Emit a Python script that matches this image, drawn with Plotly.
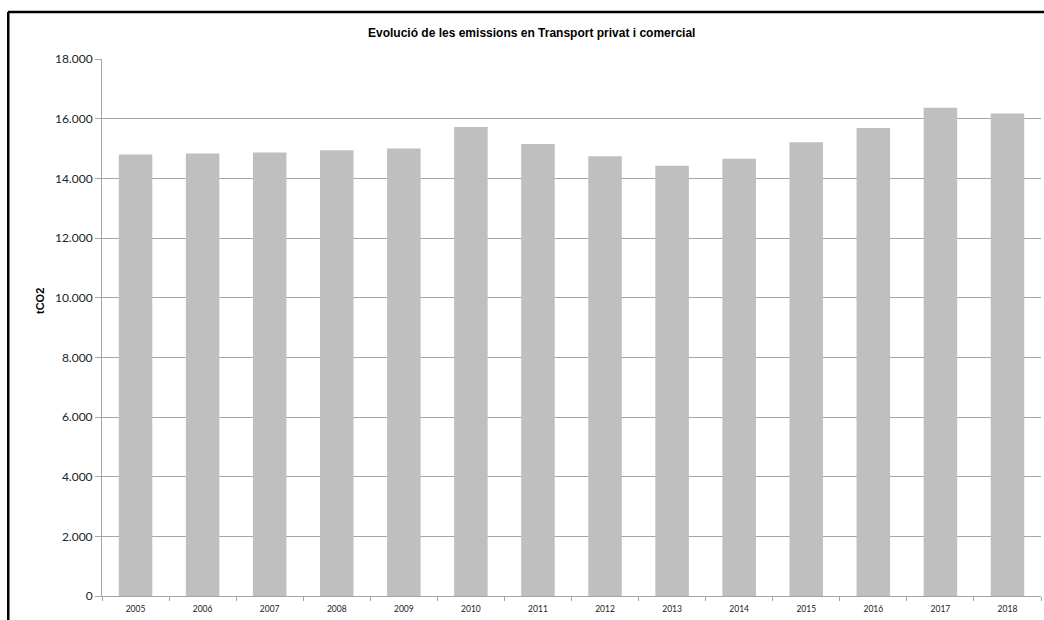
import plotly.graph_objects as go

# dades llegides del gràfic
anys = ["2005", "2006", "2007", "2008", "2009", "2010", "2011",
        "2012", "2013", "2014", "2015", "2016", "2017", "2018"]
emissions = [14800, 14830, 14870, 14940, 15000, 15720, 15150,
             14740, 14425, 14660, 15210, 15690, 16370, 16170]

titol = "Evolució de les emissions en Transport privat i comercial"
eix_y = "tCO2"

W, H = 1044, 620
L, R, T, B = 102, 3, 59, 24
pw = W - L - R
ph = H - T - B

fig = go.Figure()
fig.add_trace(go.Bar(x=anys, y=emissions, marker_color="#bfbfbf",
                     marker_line_width=0, width=0.5))

fig.update_layout(
    width=W, height=H,
    margin=dict(l=L, r=R, t=T, b=B),
    plot_bgcolor="white", paper_bgcolor="white",
    separators=",.",
    showlegend=False,
    font=dict(family="Lato, Liberation Sans, sans-serif", color="#222"),
)

fig.update_yaxes(
    range=[0, 18000], dtick=2000, tickformat=",d",
    showgrid=True, gridcolor="#a6a6a6", gridwidth=1,
    showline=True, linecolor="#a6a6a6", linewidth=1,
    ticks="outside", ticklen=6, tickcolor="#a6a6a6",
    tickfont=dict(size=12, color="#222"), zeroline=False,
)
fig.update_xaxes(
    type="category", showgrid=False,
    showline=True, linecolor="#a6a6a6", linewidth=1,
    ticks="outside", ticklen=4, tickcolor="#a6a6a6", tickson="boundaries",
    tickfont=dict(size=8.5, color="#222"), ticklabelstandoff=5,
)

# títol i etiqueta de l'eix
fig.add_annotation(text="<b>" + titol + "</b>", xref="paper", yref="paper",
                   x=(531 - L) / pw, y=1 + (T - 33) / ph,
                   xanchor="center", yanchor="middle", showarrow=False,
                   font=dict(family="Liberation Sans, Arial", size=12, color="black"))
fig.add_annotation(text="<b>" + eix_y + "</b>", xref="paper", yref="paper",
                   x=(40 - L) / pw, y=(596 - 301) / ph, textangle=-90,
                   xanchor="center", yanchor="middle", showarrow=False,
                   font=dict(family="Liberation Sans, Arial", size=11, color="black"))

# marc negre: línia de dalt i franja esquerra
y_marc = 1 + (T - 12) / ph
fig.add_shape(type="line", xref="paper", yref="paper",
              x0=(8 - L) / pw, x1=(W - L) / pw, y0=y_marc, y1=y_marc,
              line=dict(color="black", width=2.5), layer="above")
fig.add_shape(type="rect", xref="paper", yref="paper",
              x0=(7 - L) / pw, x1=(9.5 - L) / pw, y0=-B / ph, y1=y_marc,
              fillcolor="black", line_width=0, layer="above")

js = ("document.body.style.margin='0';"
      "document.body.style.overflow='hidden';"
      "document.documentElement.style.overflow='hidden';")
fig.write_html("out.html", config={"displayModeBar": False}, post_script=js)
